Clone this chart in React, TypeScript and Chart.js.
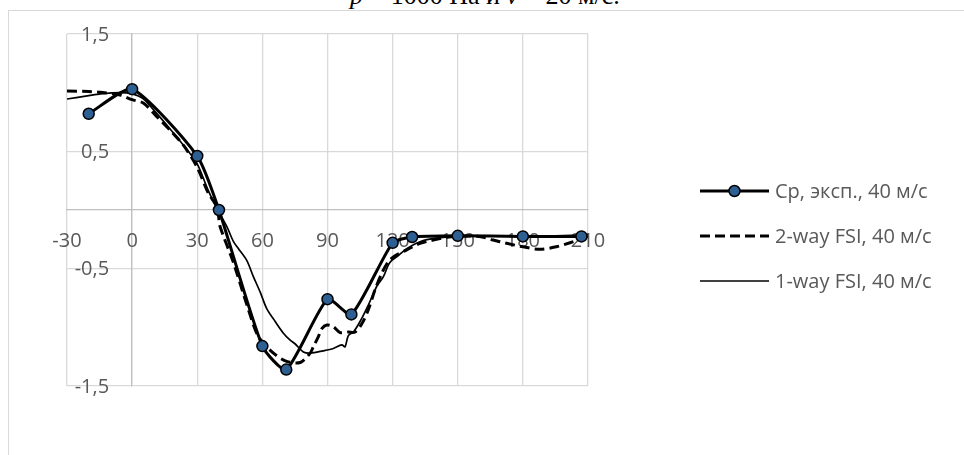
import { useEffect, useRef } from 'react';
import { Chart, registerables } from 'chart.js';

Chart.register(...registerables);

// ---- data ----
const titleText = ['р', ' = 1000 Па и ', 'v', ' = 20 м/с.'];
const seriesLabels = ['Ср, эксп., 40 м/с', '2-way FSI, 40 м/с', '1-way FSI, 40 м/с'];

const xTicks = [-30, 0, 30, 60, 90, 120, 150, 180, 210];
const xTickLabels = ['-30', '0', '30', '60', '90', '120', '150', '180', '210'];
const yTicks = [-1.5, -0.5, 0.5, 1.5];
const yTickLabels = ['-1,5', '-0,5', '0,5', '1,5'];

const expX = [-20, 0, 30, 40, 60, 71, 90, 101, 120, 129, 150, 180, 207];
const expY = [0.82, 1.03, 0.46, 0.0, -1.16, -1.36, -0.76, -0.89, -0.28, -0.23, -0.22, -0.225, -0.225];

const fsi2X = [-30, -20, -14.6, -5.5, 0, 5.3, 11.4, 17.5, 23.7, 29.8, 35.2, 39, 39.8, 40.5, 46.7, 53.6, 58.2, 65.1, 71.2, 77.4, 82, 83.5, 85.8, 87.4, 89.7, 92.7, 95.8, 99.6, 102.7, 105.8, 108.8, 111.9, 115, 118, 121.1, 126.5, 132.6, 138.7, 144.9, 150, 160, 166.3, 172.5, 180, 187.8, 195.5, 201.7, 207.8, 210];
const fsi2Y = [1.015, 1.01, 1.003, 0.98, 0.94, 0.91, 0.795, 0.68, 0.55, 0.37, 0.14, 0.03, -0.05, -0.14, -0.45, -0.85, -1.08, -1.22, -1.29, -1.3, -1.22, -1.165, -1.08, -1.01, -0.98, -0.995, -1.045, -1.04, -1.04, -0.97, -0.85, -0.68, -0.54, -0.44, -0.39, -0.34, -0.284, -0.256, -0.233, -0.225, -0.225, -0.256, -0.284, -0.313, -0.335, -0.313, -0.279, -0.24, -0.22];

const fsi1X = [-30, -20, -14.6, -5.5, 0, 5, 11, 17.5, 23.7, 29.8, 35, 40, 43.6, 46.7, 49, 52.8, 55.9, 59, 62, 65.9, 69.7, 72.8, 75, 78.9, 82, 88, 92.7, 96.6, 98.1, 99.6, 101.9, 105, 108.8, 112.7, 115.7, 118, 119.6, 121.9, 126.5, 132.6, 140, 150, 165, 180, 195, 210];
const fsi1Y = [0.946, 0.975, 0.99, 1.0, 0.99, 0.95, 0.83, 0.69, 0.55, 0.4, 0.17, -0.02, -0.14, -0.27, -0.33, -0.43, -0.57, -0.7, -0.84, -0.95, -1.05, -1.11, -1.14, -1.21, -1.22, -1.2, -1.18, -1.15, -1.165, -1.07, -1.04, -0.95, -0.81, -0.65, -0.57, -0.47, -0.43, -0.4, -0.33, -0.27, -0.24, -0.225, -0.22, -0.225, -0.22, -0.21];

const toPoints = (xs: number[], ys: number[]) => xs.map((x, i) => ({ x, y: ys[i] }));

const LABEL_FONT = "20px 'Open Sans'";
const LABEL_COLOR = '#595959';
const MARKER_FILL = '#2e5f92';

const labelsPlugin = {
  id: 'axisLabels',
  beforeDatasetsDraw(chart: any) {
    const { ctx, scales } = chart;
    const xs = scales.x;
    const ys = scales.y;
    const y0 = ys.getPixelForValue(0);
    const x0 = xs.getPixelForValue(0);
    ctx.save();
    ctx.font = LABEL_FONT;
    ctx.fillStyle = LABEL_COLOR;
    ctx.textAlign = 'center';
    ctx.textBaseline = 'middle';
    xTicks.forEach((v, i) => {
      ctx.fillText(xTickLabels[i], xs.getPixelForValue(v), y0 + 31);
    });
    ctx.textAlign = 'right';
    yTicks.forEach((v, i) => {
      ctx.fillText(yTickLabels[i], x0 - 23, ys.getPixelForValue(v) + 1);
    });
    ctx.restore();
  },
  afterDraw(chart: any) {
    const { ctx } = chart;
    const x1 = 700;
    const x2 = 769;
    const tx = 775;
    const rows = [191, 236, 281];
    ctx.save();
    chart.data.datasets.forEach((ds: any, i: number) => {
      const y = rows[i];
      ctx.beginPath();
      ctx.strokeStyle = ds.borderColor;
      ctx.lineWidth = ds.borderWidth;
      ctx.setLineDash(ds.borderDash || []);
      ctx.lineCap = 'butt';
      ctx.moveTo(x1, y);
      ctx.lineTo(x2, y);
      ctx.stroke();
      ctx.setLineDash([]);
      if (ds.pointRadius > 0) {
        ctx.beginPath();
        ctx.arc((x1 + x2) / 2, y, ds.pointRadius, 0, Math.PI * 2);
        ctx.fillStyle = ds.pointBackgroundColor;
        ctx.fill();
        ctx.lineWidth = ds.pointBorderWidth;
        ctx.strokeStyle = ds.pointBorderColor;
        ctx.stroke();
      }
      ctx.font = LABEL_FONT;
      ctx.fillStyle = LABEL_COLOR;
      ctx.textAlign = 'left';
      ctx.textBaseline = 'middle';
      ctx.fillText(ds.label, tx, y + 1);
    });
    ctx.restore();
  },
};

export default function App() {
  const ref = useRef<HTMLCanvasElement | null>(null);

  useEffect(() => {
    if (!ref.current) return;
    const chart = new Chart(ref.current, {
      type: 'scatter',
      data: {
        datasets: [
          {
            label: seriesLabels[0],
            data: toPoints(expX, expY),
            showLine: true,
            borderColor: '#000000',
            borderWidth: 3,
            pointRadius: 5.5,
            pointBackgroundColor: MARKER_FILL,
            pointBorderColor: '#000000',
            pointBorderWidth: 1.5,
            tension: 0.2,
          },
          {
            label: seriesLabels[1],
            data: toPoints(fsi2X, fsi2Y),
            showLine: true,
            borderColor: '#000000',
            borderWidth: 3,
            borderDash: [10, 5],
            pointRadius: 0,
            tension: 0.3,
          },
          {
            label: seriesLabels[2],
            data: toPoints(fsi1X, fsi1Y),
            showLine: true,
            borderColor: '#000000',
            borderWidth: 1.7,
            pointRadius: 0,
            tension: 0.3,
          },
        ] as any,
      },
      options: {
        animation: false,
        responsive: false,
        layout: { padding: { left: 67, top: 34, right: 376, bottom: 69 } },
        plugins: { legend: { display: false }, tooltip: { enabled: false }, title: { display: false } },
        scales: {
          x: {
            type: 'linear',
            min: -30,
            max: 210,
            position: { y: 0 } as any,
            afterBuildTicks: (s: any) => {
              s.ticks = xTicks.map((v) => ({ value: v }));
            },
            ticks: { display: false },
            grid: { color: '#d9d9d9', lineWidth: 1.3, drawTicks: false },
            border: { color: '#bfbfbf', width: 1.3 },
          },
          y: {
            type: 'linear',
            min: -1.5,
            max: 1.5,
            position: { x: 0 } as any,
            afterBuildTicks: (s: any) => {
              s.ticks = yTicks.map((v) => ({ value: v }));
            },
            ticks: { display: false },
            grid: { color: '#d9d9d9', lineWidth: 1.3, drawTicks: false },
            border: { color: '#bfbfbf', width: 1.3 },
          },
        },
      } as any,
      plugins: [labelsPlugin],
    });
    return () => chart.destroy();
  }, []);

  return (
    <div style={{ position: 'fixed', left: 0, top: 0, width: 964, height: 455, overflow: 'hidden', background: '#ffffff' }}>
      <div
        style={{
          position: 'absolute',
          left: 350,
          top: -17,
          whiteSpace: 'nowrap',
          fontFamily: "'Liberation Serif', serif",
          fontSize: 26,
          lineHeight: '26px',
          color: '#000',
        }}
      >
        <i>{titleText[0]}</i>
        {titleText[1]}
        <i>{titleText[2]}</i>
        {titleText[3]}
      </div>
      <div
        style={{
          position: 'absolute',
          left: 8,
          top: 10,
          width: 2000,
          height: 2000,
          border: '1.3px solid #d9d9d9',
          boxSizing: 'border-box',
        }}
      />
      <canvas ref={ref} width={964} height={455} style={{ position: 'absolute', left: 0, top: 0, width: 964, height: 455 }} />
    </div>
  );
}
